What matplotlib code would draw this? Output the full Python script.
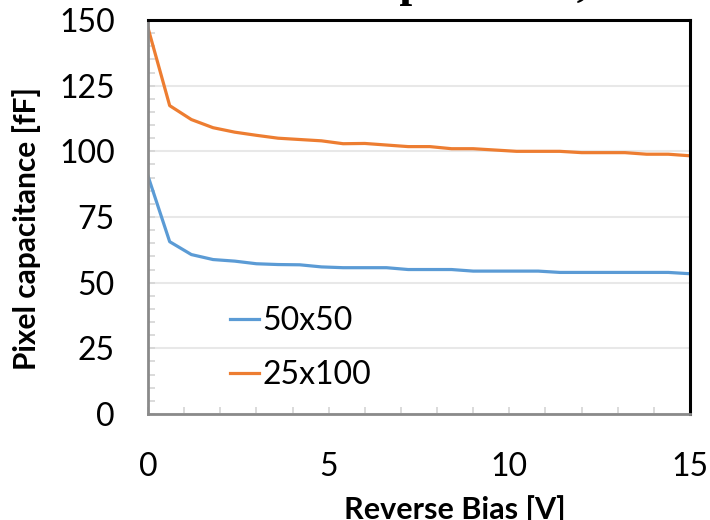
import matplotlib
matplotlib.use("Agg")
import matplotlib.pyplot as plt
from matplotlib.ticker import MultipleLocator

# reverse bias [V] and simulated pixel capacitance [fF]
bias = [0.0, 0.6, 1.2, 1.8, 2.4, 3.0, 3.6, 4.2, 4.8, 5.4, 6.0, 6.6, 7.2,
        7.8, 8.4, 9.0, 9.6, 10.2, 10.8, 11.4, 12.0, 12.6, 13.2, 13.8, 14.4, 15.0]
cap_50x50 = [90.6, 65.6, 60.7, 58.8, 58.2, 57.2, 56.9, 56.8, 56.0, 55.7, 55.7, 55.7, 55.0,
             55.0, 55.0, 54.4, 54.4, 54.4, 54.4, 53.9, 53.9, 53.9, 53.9, 53.9, 53.9, 53.4]
cap_25x100 = [147.0, 117.4, 112.1, 109.0, 107.3, 106.1, 105.0, 104.5, 104.0, 102.9, 103.0, 102.4, 101.8,
              101.8, 101.0, 101.0, 100.5, 100.0, 100.0, 100.0, 99.5, 99.5, 99.5, 98.9, 98.9, 98.3]
labels = ["50x50", "25x100"]
xticks = [0, 5, 10, 15]
yticks = [0, 25, 50, 75, 100, 125, 150]

plt.rcParams['font.family'] = ['Lato', 'DejaVu Sans']

fig = plt.figure(figsize=(7.1, 5.2), dpi=100)
ax = fig.add_axes([148/710, 1-414/520, 542/710, 394/520])

ax.plot(bias, cap_50x50, color='#5B9BD5', lw=2.3, label=labels[0])
ax.plot(bias, cap_25x100, color='#ED7D31', lw=2.3, label=labels[1])

ax.set_xlim(0, 15)
ax.set_ylim(0, 150)
ax.set_xticks(xticks)
ax.set_yticks(yticks)
ax.xaxis.set_minor_locator(MultipleLocator(1))
ax.yaxis.set_minor_locator(MultipleLocator(5))
ax.tick_params(which='both', direction='in', color='#d4d4d4', length=5, width=1.2,
               labelsize=23, labelcolor='black')
ax.tick_params(axis='x', which='major', pad=27)
ax.tick_params(axis='y', which='major', pad=24)
ax.grid(axis='y', which='major', color='#e8e8e8', lw=1.5)
ax.set_axisbelow(True)

for s in ['top', 'right']:
    ax.spines[s].set_color('black')
    ax.spines[s].set_linewidth(2.2)
for s in ['left', 'bottom']:
    ax.spines[s].set_color('#8a8a8a')
    ax.spines[s].set_linewidth(2.0)

ax.set_ylabel('Pixel capacitance [fF]', fontsize=21.5, fontweight='bold')
ax.yaxis.set_label_coords(-0.197, 0.47)
ax.set_xlabel('Reverse Bias [V]', fontsize=22, fontweight='bold')
ax.xaxis.set_label_coords(0.566, -0.205)

ax.legend(loc='upper left', bbox_to_anchor=((230-148)/542, (414-306)/394),
          frameon=False, fontsize=23, handlelength=0.9, handletextpad=0.12,
          labelspacing=0.75, borderpad=0, borderaxespad=0)

# title cut off by the top edge of the picture
fig.text(588/710, 1+4/520, 'Influence of pixel size,', ha='right', va='baseline',
         fontsize=33, fontweight='bold', family='Liberation Serif')

fig.savefig('out.png', dpi=100)
